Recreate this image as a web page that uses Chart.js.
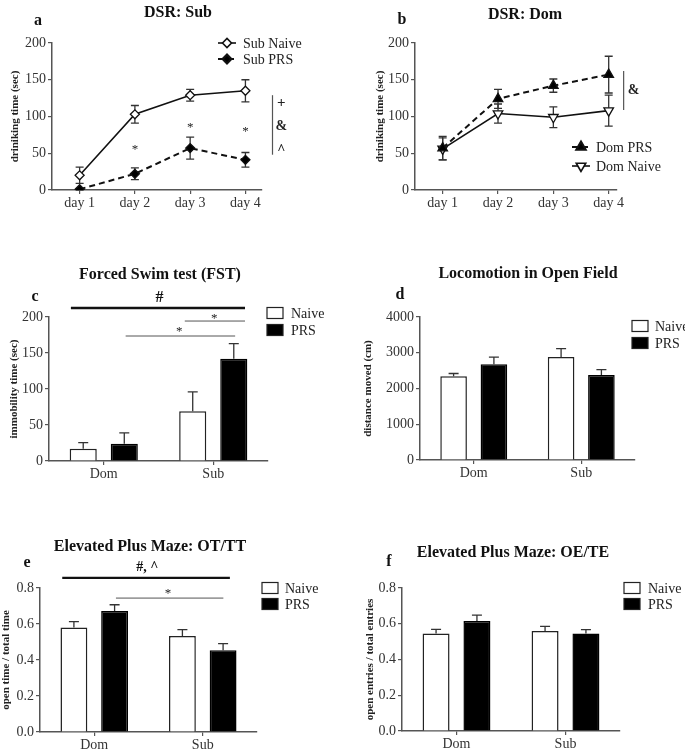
<!DOCTYPE html>
<html>
<head>
<meta charset="utf-8">
<script src="https://cdn.jsdelivr.net/npm/chart.js@4.4.1/dist/chart.umd.min.js"></script>
<style>
  html, body { margin: 0; padding: 0; background: #fff; }
  #wrap { position: relative; width: 685px; height: 752px; overflow: hidden; }
  #wrap canvas { position: absolute; left: 0; top: 0; }
</style>
</head>
<body>
<div id="wrap">
  <canvas id="a" width="685" height="752"></canvas>
  <canvas id="b" width="685" height="752"></canvas>
  <canvas id="c" width="685" height="752"></canvas>
  <canvas id="d" width="685" height="752"></canvas>
  <canvas id="e" width="685" height="752"></canvas>
  <canvas id="f" width="685" height="752"></canvas>
</div>
<script>
// categories / tick labels
const dayLabels = ["day 1", "day 2", "day 3", "day 4"];
const groupLabels = ["Dom", "Sub"];
const dsrTicks = [0, 50, 100, 150, 200];
const fstTicks = [0, 50, 100, 150, 200];
const ofTicks = [0, 1000, 2000, 3000, 4000];
const epmTicks = [0, 0.2, 0.4, 0.6, 0.8];

// a: DSR Sub
const subNaive = [20, 103, 129, 135];
const subNaiveErr = [11, 12, 8, 15];
const subPrs = [1, 22, 57, 41];
const subPrsErr = [1, 8, 15, 10];

// b: DSR Dom
const domPrs = [57, 124, 142, 157];
const domPrsErr = [16, 13, 9, 25];
const domNaive = [56, 104, 99, 108];
const domNaiveErr = [15, 13, 14, 21];

// c: forced swim test
const fstNaive = [17, 69];
const fstNaiveErr = [8.5, 27];
const fstPrs = [24, 142];
const fstPrsErr = [15, 21];

// d: open field
const ofNaive = [2340, 2880];
const ofNaiveErr = [80, 235];
const ofPrs = [2680, 2380];
const ofPrsErr = [195, 150];

// e: EPM OT/TT
const otNaive = [0.58, 0.533];
const otNaiveErr = [0.033, 0.036];
const otPrs = [0.672, 0.454];
const otPrsErr = [0.035, 0.037];

// f: EPM OE/TE
const oeNaive = [0.545, 0.559];
const oeNaiveErr = [0.024, 0.026];
const oePrs = [0.616, 0.545];
const oePrsErr = [0.032, 0.022];

const SERIF = "'Liberation Serif', 'DejaVu Serif', serif";
const W = 685, H = 752;

// titles, letters, legends, error bars and significance marks
const decoPlugin = {
  id: "deco",
  beforeDatasetsDraw(chart) {
    const ctx = chart.ctx, ys = chart.scales.y;
    const isBar = chart.config.type === "bar";
    chart.data.datasets.forEach((ds, di) => {
      if (!ds.errors) return;
      const meta = chart.getDatasetMeta(di);
      meta.data.forEach((el, i) => {
        const d = ds.data[i];
        const v = typeof d === "object" ? d.y : d;
        const err = ds.errors[i];
        const top = ys.getPixelForValue(v + err);
        const bot = isBar ? el.y : ys.getPixelForValue(v - err);
        const cap = isBar ? 5 : 4;
        ctx.save();
        ctx.strokeStyle = "#333";
        ctx.lineWidth = 1.3;
        ctx.beginPath();
        ctx.moveTo(el.x, bot); ctx.lineTo(el.x, top);
        ctx.moveTo(el.x - cap, top); ctx.lineTo(el.x + cap, top);
        if (!isBar) { ctx.moveTo(el.x - cap, bot); ctx.lineTo(el.x + cap, bot); }
        ctx.stroke();
        ctx.restore();
      });
    });
  },
  afterDraw(chart, args, o) {
    const ctx = chart.ctx, xs = chart.scales.x, ys = chart.scales.y;
    ctx.save();
    ctx.fillStyle = "#111";
    ctx.textAlign = "center";
    ctx.textBaseline = "middle";
    ctx.font = "bold 16px " + SERIF;
    ctx.fillText(o.title, o.titleX, o.titleY);
    ctx.fillText(o.letter, o.letterX, o.letterY);

    // significance marks
    (o.notes || []).forEach(n => {
      ctx.strokeStyle = n.color || "#555";
      ctx.fillStyle = n.color || "#222";
      if (n.kind === "hline") {
        ctx.lineWidth = n.w || 1;
        ctx.beginPath();
        ctx.moveTo(xs.getPixelForValue(n.x1), ys.getPixelForValue(n.y));
        ctx.lineTo(xs.getPixelForValue(n.x2), ys.getPixelForValue(n.y));
        ctx.stroke();
      } else if (n.kind === "vline") {
        ctx.lineWidth = n.w || 1;
        ctx.beginPath();
        ctx.moveTo(xs.getPixelForValue(n.x), ys.getPixelForValue(n.y1));
        ctx.lineTo(xs.getPixelForValue(n.x), ys.getPixelForValue(n.y2));
        ctx.stroke();
      } else {
        ctx.font = (n.bold ? "bold " : "") + (n.size || 13) + "px " + SERIF;
        ctx.fillText(n.text, xs.getPixelForValue(n.x), ys.getPixelForValue(n.y) + (n.dy || 0));
      }
    });

    // legend
    const lg = o.legend;
    ctx.textAlign = "left";
    ctx.font = "14px " + SERIF;
    chart.data.datasets.forEach((ds, i) => {
      const y = lg.y[i];
      if (lg.box) {
        ctx.fillStyle = ds.backgroundColor;
        ctx.fillRect(lg.x, y - 5.5, 16, 11);
        ctx.strokeStyle = "#222";
        ctx.lineWidth = 1.2;
        ctx.strokeRect(lg.x, y - 5.5, 16, 11);
      } else {
        ctx.strokeStyle = ds.borderColor;
        ctx.lineWidth = ds.borderWidth;
        ctx.setLineDash(ds.borderDash || []);
        ctx.beginPath();
        ctx.moveTo(lg.x, y); ctx.lineTo(lg.x + 18, y);
        ctx.stroke();
        ctx.setLineDash([]);
        ctx.fillStyle = ds.pointBackgroundColor;
        ctx.strokeStyle = ds.pointBorderColor;
        Chart.helpers.drawPoint(ctx, {
          pointStyle: ds.pointStyle, rotation: ds.pointRotation || 0,
          radius: ds.pointRadius, borderWidth: ds.pointBorderWidth
        }, lg.x + 9, y);
      }
      ctx.fillStyle = "#222";
      ctx.fillText(ds.label, lg.textX, y + 1);
    });
    ctx.restore();
  }
};

const tickFont = { family: SERIF, size: 14 };

function yAxis(ticks, title, fmt) {
  return {
    type: "linear",
    min: ticks[0],
    max: ticks[ticks.length - 1],
    afterBuildTicks: s => { s.ticks = ticks.map(v => ({ value: v })); },
    ticks: { font: tickFont, color: "#333", padding: 2, callback: fmt || (v => v) },
    grid: { drawOnChartArea: false, tickLength: 4, color: "#555", lineWidth: 1.2 },
    border: { color: "#555", width: 1.5 },
    title: { display: true, text: title, color: "#222", padding: 0,
             font: { family: SERIF, size: 11, weight: "bold" } }
  };
}

function dayAxis(max) {
  return {
    type: "linear",
    min: 0.5,
    max: max,
    afterBuildTicks: s => { s.ticks = dayLabels.map((d, i) => ({ value: i + 1 })); },
    ticks: { font: tickFont, color: "#333", padding: 1, callback: v => dayLabels[v - 1] },
    grid: { drawOnChartArea: false, tickLength: 4, color: "#555", lineWidth: 1.2 },
    border: { color: "#555", width: 1.5 }
  };
}

function groupAxis() {
  return {
    type: "category",
    offset: true,
    ticks: { font: tickFont, color: "#333", padding: 1 },
    grid: { offset: false, drawOnChartArea: false, tickLength: 4, color: "#555", lineWidth: 1.2 },
    border: { color: "#555", width: 1.5 }
  };
}

function makeChart(id, type, data, xScale, yScale, area, deco) {
  const padLeft = Math.max(0, deco.yTitleX - 6.6);
  const xH = Math.min(22, H - area.b);
  yScale.afterFit = s => { s.width = area.l - padLeft; };
  xScale.afterFit = s => { s.height = xH; };
  return new Chart(document.getElementById(id), {
    type: type,
    data: data,
    options: {
      responsive: false,
      animation: false,
      layout: { padding: { left: padLeft, top: area.t, right: W - area.r, bottom: H - area.b - xH } },
      plugins: { legend: { display: false }, tooltip: { enabled: false }, deco: deco },
      scales: { x: xScale, y: yScale }
    },
    plugins: [decoPlugin]
  });
}

function lineSet(label, vals, errs, dashed, style, rot, filled) {
  return {
    label: label,
    data: vals.map((v, i) => ({ x: i + 1, y: v })),
    errors: errs,
    borderColor: "#111",
    borderWidth: dashed ? 2 : 1.6,
    borderDash: dashed ? [6, 4] : [],
    pointStyle: style,
    pointRotation: rot,
    pointRadius: style === "rectRot" ? 4.5 : 5.5,
    pointBorderWidth: 1.3,
    pointBackgroundColor: filled ? "#000" : "#fff",
    pointBorderColor: "#111",
    tension: 0
  };
}

function barSets(naive, naiveErr, prs, prsErr) {
  const common = { borderWidth: 1.5, categoryPercentage: 0.75, barPercentage: 0.66 };
  return [
    Object.assign({ label: "Naive", data: naive, errors: naiveErr, backgroundColor: "#fff", borderColor: "#222" }, common),
    Object.assign({ label: "PRS", data: prs, errors: prsErr, backgroundColor: "#000", borderColor: "#000" }, common)
  ];
}

// a
makeChart("a", "line",
  { datasets: [
      lineSet("Sub Naive", subNaive, subNaiveErr, false, "rectRot", 0, false),
      lineSet("Sub PRS", subPrs, subPrsErr, true, "rectRot", 0, true) ] },
  dayAxis(4.3), yAxis(dsrTicks, "driniking time (sec)"),
  { l: 52, t: 43, r: 262, b: 190 },
  { yTitleX: 15, title: "DSR: Sub", titleX: 178, titleY: 13, letter: "a", letterX: 38, letterY: 21,
    legend: { x: 218, textX: 243, y: [43, 59] },
    notes: [
      { kind: "text", text: "*", x: 2, y: 58, dy: 2 },
      { kind: "text", text: "*", x: 3, y: 88, dy: 2 },
      { kind: "text", text: "*", x: 4, y: 82, dy: 2 },
      { kind: "vline", x: 4.49, y1: 48, y2: 129, w: 1.2 },
      { kind: "text", text: "+", x: 4.65, y: 118, bold: true, size: 15 },
      { kind: "text", text: "&", x: 4.65, y: 86, bold: true, size: 14 },
      { kind: "text", text: "^", x: 4.65, y: 58, bold: true, size: 14, dy: 3 } ] });

// b
makeChart("b", "line",
  { datasets: [
      lineSet("Dom PRS", domPrs, domPrsErr, true, "triangle", 0, true),
      lineSet("Dom Naive", domNaive, domNaiveErr, false, "triangle", 180, false) ] },
  dayAxis(4.15), yAxis(dsrTicks, "driniking time (sec)"),
  { l: 415, t: 43, r: 617, b: 190 },
  { yTitleX: 380, title: "DSR: Dom", titleX: 525, titleY: 15, letter: "b", letterX: 402, letterY: 20,
    legend: { x: 572, textX: 596, y: [147, 166] },
    notes: [
      { kind: "vline", x: 4.27, y1: 109, y2: 162, w: 1.2 },
      { kind: "text", text: "&", x: 4.45, y: 135, bold: true, size: 14 } ] });

// c
makeChart("c", "bar",
  { labels: groupLabels, datasets: barSets(fstNaive, fstNaiveErr, fstPrs, fstPrsErr) },
  groupAxis(), yAxis(fstTicks, "immobility time (sec)"),
  { l: 49, t: 317, r: 268, b: 461 },
  { yTitleX: 14, title: "Forced Swim test (FST)", titleX: 160, titleY: 275, letter: "c", letterX: 35, letterY: 297,
    legend: { box: true, x: 267, textX: 291, y: [313, 330] },
    notes: [
      { kind: "hline", x1: -0.3, x2: 1.29, y: 212.5, w: 2.4, color: "#111" },
      { kind: "text", text: "#", x: 0.51, y: 226, bold: true, size: 16, color: "#111" },
      { kind: "hline", x1: 0.74, x2: 1.29, y: 194.4, w: 1 },
      { kind: "text", text: "*", x: 1.01, y: 201, dy: 2 },
      { kind: "hline", x1: 0.2, x2: 1.2, y: 173.6, w: 1 },
      { kind: "text", text: "*", x: 0.69, y: 182, dy: 2 } ] });

// d
makeChart("d", "bar",
  { labels: groupLabels, datasets: barSets(ofNaive, ofNaiveErr, ofPrs, ofPrsErr) },
  groupAxis(), yAxis(ofTicks, "distance moved (cm)"),
  { l: 420, t: 317, r: 635, b: 460 },
  { yTitleX: 368, title: "Locomotion in Open Field", titleX: 528, titleY: 274, letter: "d", letterX: 400, letterY: 295,
    legend: { box: true, x: 632, textX: 655, y: [326, 343] } });

// e
makeChart("e", "bar",
  { labels: groupLabels, datasets: barSets(otNaive, otNaiveErr, otPrs, otPrsErr) },
  groupAxis(), yAxis(epmTicks, "open time / total time", v => v.toFixed(1)),
  { l: 40, t: 588, r: 257, b: 732 },
  { yTitleX: 6, title: "Elevated Plus Maze: OT/TT", titleX: 150, titleY: 547, letter: "e", letterX: 27, letterY: 563,
    legend: { box: true, x: 262, textX: 285, y: [588, 604] },
    notes: [
      { kind: "hline", x1: -0.295, x2: 1.25, y: 0.856, w: 2.4, color: "#111" },
      { kind: "text", text: "#, ^", x: 0.49, y: 0.917, bold: true, size: 14, color: "#111" },
      { kind: "hline", x1: 0.2, x2: 1.19, y: 0.744, w: 1 },
      { kind: "text", text: "*", x: 0.68, y: 0.778, dy: 2 } ] });

// f
makeChart("f", "bar",
  { labels: groupLabels, datasets: barSets(oeNaive, oeNaiveErr, oePrs, oePrsErr) },
  groupAxis(), yAxis(epmTicks, "open entries / total entries", v => v.toFixed(1)),
  { l: 402, t: 588, r: 620, b: 731 },
  { yTitleX: 370, title: "Elevated Plus Maze: OE/TE", titleX: 513, titleY: 553, letter: "f", letterX: 389, letterY: 562,
    legend: { box: true, x: 624, textX: 648, y: [588, 604] } });
</script>
</body>
</html>
